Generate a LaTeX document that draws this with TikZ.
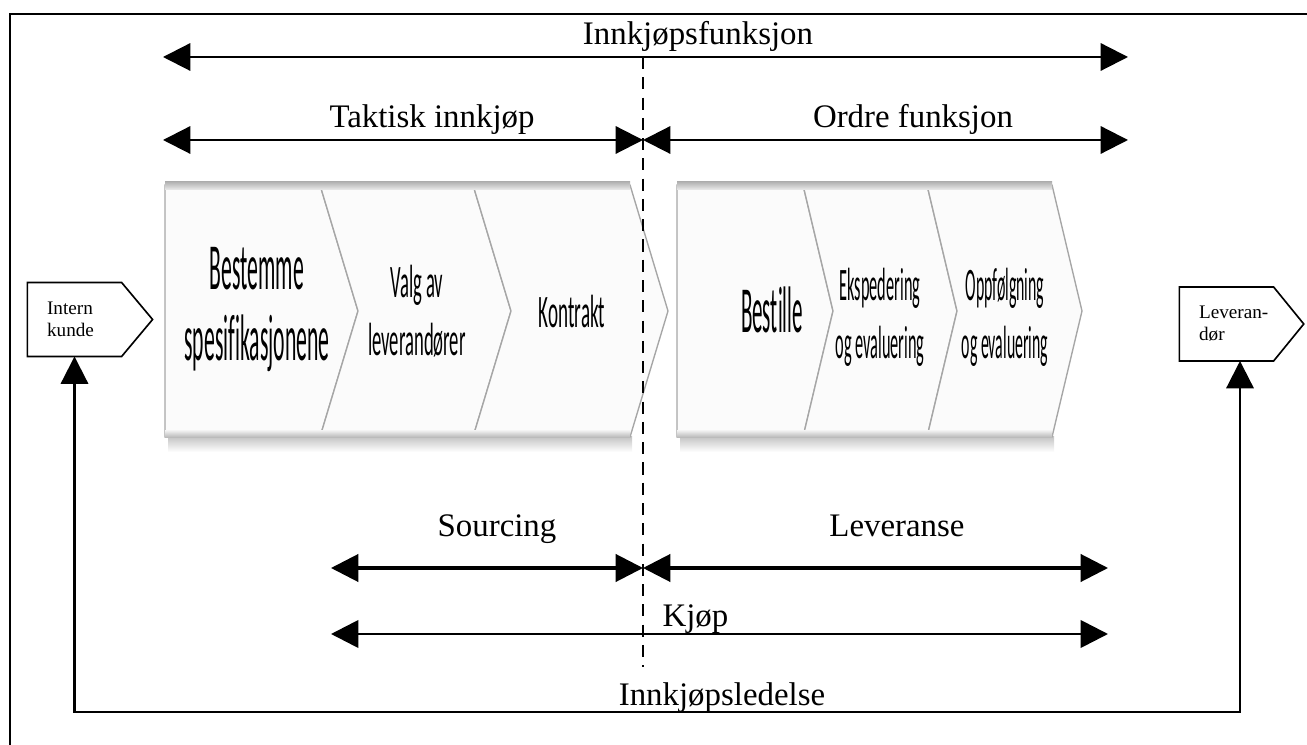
\documentclass[tikz,border=0pt]{standalone}
\usepackage{fontspec}
\usepackage{graphicx}
\setmainfont{Liberation Serif}
\newfontfamily\chevfont[Ligatures={NoCommon}]{Carlito}
\usetikzlibrary{arrows.meta}

\newcommand{\squeeze}[2]{\scalebox{#1}[1]{\begin{tabular}{@{}c@{}}#2\end{tabular}}}

\begin{document}
\begin{tikzpicture}
    [x=0.365pt, y=-0.365pt,
     dbl/.style={{Triangle[length=10pt,width=10pt]}-{Triangle[length=10pt,width=10pt]}, line width=0.8pt},
     lbl/.style={anchor=base, font=\fontsize{12}{14}\selectfont, inner sep=0pt},
     endbox/.style={rectangle, minimum width=34pt, minimum height=26.6pt, text width=20pt, inner xsep=7pt, align=left, font=\fontsize{7}{8}\selectfont},
     big/.style={font=\chevfont\fontsize{24}{26}\selectfont, inner sep=0pt},
     small/.style={font=\chevfont\fontsize{17}{21}\selectfont, inner sep=0pt},
     chev/.style={fill=gray!3, draw=gray!70, line width=0.5pt}]
    \useasboundingbox (0,0) rectangle (1307,745);
    \draw[line width=0.75pt] (10,745) -- (10,14) -- (1307,14);

    \shade[top color=gray!45, bottom color=white] (168,437) rectangle (632,452);
    \shade[top color=gray!45, bottom color=white] (680,437) rectangle (1054,452);
    \foreach \l/\r/\n in {165/320/0, 320/473/1, 473/630/1}
        \draw[chev] (\l,185) -- (\r,185) -- (\r+38,311) -- (\r,437) -- (\l,437) -- (\l+38*\n,311) -- cycle;
    \foreach \l/\r/\n in {677/803/0, 803/927/1, 927/1052/1}
        \draw[chev] (\l,185) -- (\r,185) -- (\r+30,311) -- (\r,437) -- (\l,437) -- (\l+30*\n,311) -- cycle;
    \shade[top color=gray!60, bottom color=gray!15] (165,182) rectangle (630,190);
    \shade[top color=gray!15, bottom color=gray!60] (165,431) rectangle (630,438);
    \shade[top color=gray!60, bottom color=gray!15] (677,182) rectangle (1052,190);
    \shade[top color=gray!15, bottom color=gray!60] (677,431) rectangle (1052,438);

    \node[big] (c1) at (257,311) {\squeeze{0.33}{Bestemme\\spesifikasjonene}};
    \node[small] (c2) at (417,315) {\squeeze{0.40}{Valg av\\leverandører}};
    \node[small] (c3) at (572,316) {\squeeze{0.41}{Kontrakt}};
    \node[big] (c4) at (772,318) {\squeeze{0.32}{Bestille}};
    \node[small] (c5) at (880,318) {\squeeze{0.35}{Ekspedering\\og evaluering}};
    \node[small] (c6) at (1005,318) {\squeeze{0.34}{Oppfølgning\\og evaluering}};

    \node[endbox] (ik) at (74.5,319.5) {Intern\\kunde};
    \node[endbox] (lv) at (1226.5,324) {\mbox{Leveran-}\\dør};
    \draw[line width=0.6pt] (ik.north west) -- (ik.north east) -- ([xshift=11.3pt]ik.east) -- (ik.south east) -- (ik.south west) -- cycle;
    \draw[line width=0.6pt] (lv.north west) -- (lv.north east) -- ([xshift=11pt]lv.east) -- (lv.south east) -- (lv.south west) -- cycle;

    \coordinate (funL) at (163,57);
    \coordinate (funR) at (1128,57);
    \coordinate (takL) at (163,140);
    \coordinate (mid) at (643,140);
    \coordinate (ordR) at (1128,140);
    \coordinate (srcL) at (331,568);
    \coordinate (midB) at (643,568);
    \coordinate (levR) at (1108,568);
    \coordinate (kjpL) at (331,634);
    \coordinate (kjpR) at (1108,634);
    \coordinate (dT) at (643,57);
    \coordinate (dB) at (643,667);
    \coordinate (lpL) at (74,712);
    \coordinate (lpR) at (1240,712);

    \draw[line width=0.7pt, dash pattern=on 4.4pt off 3pt] (dT) -- (dB);
    \draw[dbl] (funL) -- (funR);
    \draw[dbl] (takL) -- (mid);
    \draw[dbl] (mid) -- (ordR);
    \draw[dbl, line width=1.1pt] (srcL) -- (midB);
    \draw[dbl, line width=1.1pt] (midB) -- (levR);
    \draw[dbl, line width=1pt] (kjpL) -- (kjpR);
    \draw[dbl] (ik.south) -- (ik.south |- lpL) -- (lpR) -- (lv.south -| lpR);

    \node[lbl] (fun) at (698,45) {Innkjøpsfunksjon};
    \node[lbl] (tak) at (432,128) {Taktisk innkjøp};
    \node[lbl] (ord) at (913,128) {Ordre funksjon};
    \node[lbl] (src) at (497,537) {Sourcing};
    \node[lbl] (lev) at (897,537) {Leveranse};
    \node[lbl, anchor=base west] (kjp) at (662,626) {Kjøp};
    \node[lbl] (led) at (722,706) {Innkjøpsledelse};
\end{tikzpicture}
\end{document}
